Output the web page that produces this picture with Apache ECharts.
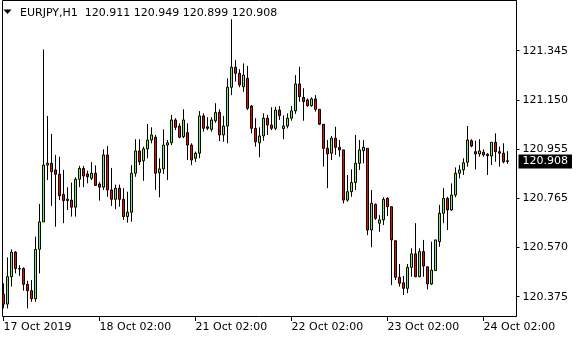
<!DOCTYPE html>
<html><head><meta charset="utf-8">
<script src="https://cdn.jsdelivr.net/npm/echarts@6/dist/echarts.min.js"></script>
<style>html,body{margin:0;padding:0;background:#fff}#c{width:580px;height:340px}</style>
</head><body><div id="c"></div>
<script>
const symbol = 'EURJPY';
const timeframe = 'H1';
const tickIndex = [0, 24, 48, 72, 96, 120];
const tickLabels = ['17 Oct 2019', '18 Oct 02:00', '21 Oct 02:00', '22 Oct 02:00', '23 Oct 02:00', '24 Oct 02:00'];
const priceTicks = [120.375, 120.570, 120.765, 120.955, 121.150, 121.345];

const open = [120.385,120.346,120.454,120.551,120.484,120.486,120.424,120.399,120.367,120.562,
120.670,120.894,120.901,120.875,120.858,120.778,120.754,120.756,120.728,120.838,
120.881,120.859,120.842,120.862,120.819,120.807,120.934,120.796,120.759,120.803,
120.759,120.691,120.708,120.862,120.950,120.911,120.958,120.993,121.004,120.864,
120.879,120.973,120.982,121.072,121.048,121.006,121.022,120.973,120.921,120.941,
121.088,121.045,121.035,121.069,121.102,121.013,121.048,121.201,121.280,121.256,
121.203,121.236,121.127,121.039,120.982,121.009,121.079,121.052,121.039,121.111,
121.038,121.048,121.079,121.108,121.214,121.161,121.151,121.128,121.155,121.114,
121.055,120.960,120.941,121.000,120.964,120.954,120.756,120.789,120.825,120.901,
120.951,120.960,120.638,120.739,120.665,120.678,120.763,120.730,120.596,120.452,
120.430,120.408,120.491,120.544,120.454,120.553,120.493,120.425,120.478,120.592,
120.704,120.763,120.717,120.776,120.862,120.875,120.905,120.990,120.947,120.938,
120.945,120.937,120.930,120.984,120.947,120.941,120.911];
const high = [120.428,120.530,120.562,120.555,120.499,120.491,120.438,120.441,120.612,120.741,
121.350,121.088,121.017,120.934,120.927,120.875,120.807,120.825,120.846,120.891,
120.891,120.872,120.906,120.893,120.827,120.956,120.969,120.883,120.817,120.817,
120.803,120.789,120.894,120.996,120.996,120.967,121.056,121.043,121.013,120.921,
121.035,120.993,121.092,121.079,121.059,121.114,121.059,120.980,120.947,121.107,
121.098,121.083,121.083,121.138,121.114,121.088,121.236,121.469,121.308,121.272,
121.295,121.285,121.131,121.079,121.043,121.098,121.092,121.122,121.124,121.127,
121.090,121.098,121.127,121.249,121.282,121.197,121.157,121.161,121.170,121.114,
121.055,120.993,121.009,121.045,120.993,120.954,120.855,120.877,121.013,120.993,
120.993,120.960,120.796,120.743,120.697,120.767,120.767,120.730,120.596,120.504,
120.457,120.504,120.566,120.665,120.566,120.599,120.493,120.592,120.599,120.737,
120.803,120.769,120.822,120.885,120.894,120.921,121.048,120.996,120.990,120.996,
120.956,120.941,120.984,121.019,120.967,120.980,120.949];
const low = [120.329,120.329,120.415,120.467,120.457,120.399,120.329,120.355,120.355,120.467,
120.670,120.835,120.733,120.651,120.756,120.665,120.717,120.691,120.691,120.807,
120.807,120.822,120.835,120.812,120.754,120.796,120.769,120.733,120.720,120.730,
120.678,120.667,120.671,120.848,120.894,120.832,120.921,120.980,120.796,120.767,
120.859,120.835,120.973,121.032,121.000,121.000,120.914,120.894,120.906,120.921,
121.026,121.032,121.026,121.061,120.989,120.986,120.980,121.170,121.223,121.201,
121.183,121.111,121.019,120.967,120.925,120.990,121.013,121.032,121.032,121.072,
120.996,121.039,121.069,121.096,121.144,121.069,121.124,121.124,121.105,121.052,
120.888,120.803,120.914,120.934,120.927,120.743,120.750,120.769,120.796,120.875,
120.901,120.618,120.570,120.678,120.631,120.658,120.693,120.421,120.441,120.415,
120.382,120.389,120.454,120.452,120.452,120.454,120.404,120.421,120.478,120.572,
120.665,120.638,120.714,120.767,120.842,120.855,120.888,120.964,120.877,120.927,
120.927,120.855,120.894,120.907,120.888,120.901,120.899];
const close = [120.346,120.454,120.551,120.486,120.486,120.424,120.399,120.367,120.562,120.670,
120.894,120.901,120.868,120.858,120.773,120.754,120.760,120.728,120.838,120.881,
120.851,120.848,120.862,120.814,120.807,120.934,120.796,120.759,120.803,120.759,
120.691,120.708,120.862,120.950,120.907,120.958,120.993,121.013,120.862,120.879,
120.973,120.982,121.072,121.043,121.004,121.072,120.973,120.914,120.941,121.088,
121.039,121.039,121.072,121.101,121.013,121.048,121.201,121.280,121.256,121.210,
121.249,121.118,121.039,120.986,121.009,121.079,121.052,121.039,121.111,121.089,
121.048,121.079,121.108,121.214,121.164,121.144,121.128,121.155,121.114,121.055,
120.960,120.938,121.000,120.964,120.954,120.756,120.789,120.825,120.901,120.954,
120.964,120.638,120.743,120.684,120.678,120.759,120.730,120.599,120.452,120.428,
120.408,120.491,120.544,120.454,120.553,120.496,120.425,120.480,120.599,120.704,
120.763,120.717,120.776,120.862,120.875,120.903,120.993,120.969,120.938,120.950,
120.934,120.931,120.984,120.947,120.941,120.907,120.908];

// hourly categories (weekend skipped)
const categories = [];
{
  let t = Date.UTC(2019, 9, 17, 2);
  while (categories.length < open.length) {
    const d = new Date(t);
    const wd = d.getUTCDay();
    if (wd !== 0 && wd !== 6) {
      categories.push(d.getUTCDate() + ' Oct ' + String(d.getUTCHours()).padStart(2, '0') + ':00');
    }
    t += 3600000;
  }
}
const candles = open.map((o, i) => [o, close[i], low[i], high[i]]);
const last = open.length - 1;
const font = 'DejaVu Sans';

const chart = echarts.init(document.getElementById('c'), null, {renderer: 'canvas', devicePixelRatio: 1});
chart.setOption({
  animation: false,
  backgroundColor: '#ffffff',
  grid: {left: 1.5, right: 70.5, top: 1, bottom: 24, containLabel: false},
  xAxis: {
    type: 'category',
    data: categories,
    boundaryGap: true,
    axisLine: {show: false},
    axisTick: {show: true, alignWithLabel: true, length: 5, lineStyle: {color: '#000'},
      interval: (idx) => tickIndex.includes(idx)},
    axisLabel: {
      show: true, interval: (idx) => tickIndex.includes(idx),
      formatter: (v, idx) => { const k = tickIndex.indexOf(idx); return k >= 0 ? tickLabels[k] : ''; },
      align: 'left', margin: 6, color: '#000', fontFamily: font, fontSize: 11
    },
    splitLine: {show: false}
  },
  yAxis: [{
    type: 'value', position: 'right', offset: 7,
    min: 120.299, max: 121.541, scale: true,
    axisLine: {show: true, lineStyle: {color: '#000'}},
    axisTick: {show: true, length: 3, lineStyle: {color: '#000'}, customValues: priceTicks},
    axisLabel: {show: true, customValues: priceTicks, formatter: (v) => v.toFixed(3),
      margin: 6, color: '#000', fontFamily: font, fontSize: 11},
    splitLine: {show: false}
  }, {
    type: 'value', position: 'right', offset: 7,
    min: 120.299, max: 121.541, scale: true,
    axisLine: {show: false}, axisTick: {show: false},
    axisLabel: {show: true, customValues: [close[last]], formatter: (v) => v.toFixed(3),
      margin: 2, color: '#fff', backgroundColor: '#000', padding: [1, 4, 1, 4], lineHeight: 12,
      fontFamily: font, fontSize: 11},
    splitLine: {show: false}
  }],
  graphic: [
    {type: 'rect', shape: {x: 2.5, y: 0.5, width: 514, height: 316}, style: {fill: null, stroke: '#000', lineWidth: 1}, silent: true, z: 0},
    {type: 'polygon', shape: {points: [[3.5, 9.5], [11.5, 9.5], [7.5, 14]]}, style: {fill: '#000'}, z: 10},
    {type: 'text', x: 20, y: 13, style: {
      text: symbol + ',' + timeframe + '  ' + [open[last], high[last], low[last], close[last]].map(v => v.toFixed(3)).join(' '),
      fill: '#000', font: '11px "DejaVu Sans"', textVerticalAlign: 'middle', verticalAlign: 'middle'}, z: 10}
  ],
  series: [{
    type: 'candlestick',
    data: candles,
    barWidth: 3,
    itemStyle: {color: '#7CFC00', color0: '#FF0000', borderColor: '#000', borderColor0: '#000', borderColorDoji: '#000', borderWidth: 1},
    z: 5
  }]
});
</script>
</body></html>
